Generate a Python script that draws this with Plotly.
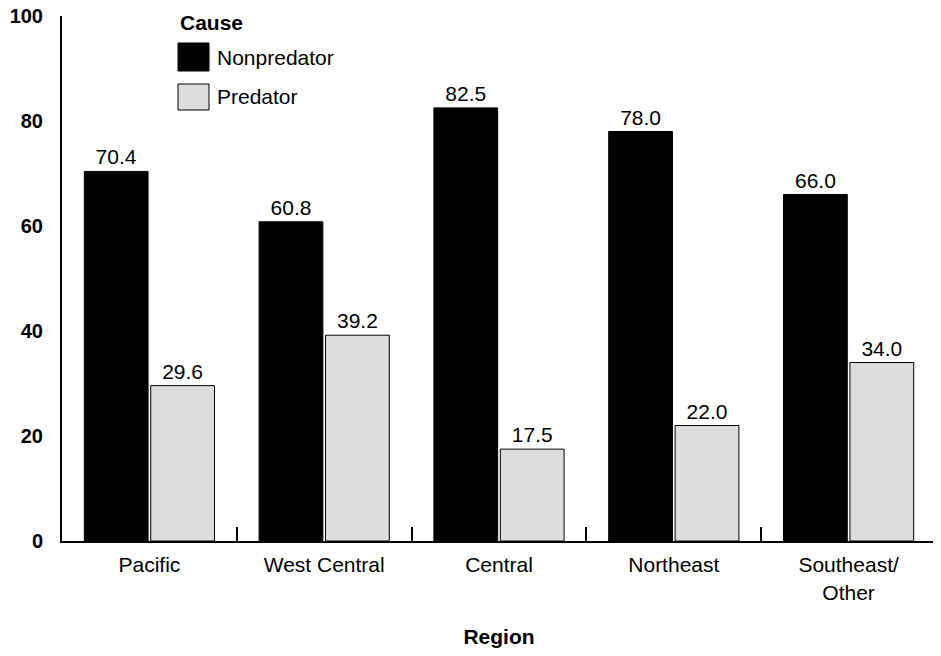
import plotly.graph_objects as go

regions = ["Pacific", "West Central", "Central", "Northeast", "Southeast/<br>Other"]
nonpredator = [70.4, 60.8, 82.5, 78.0, 66.0]
predator = [29.6, 39.2, 17.5, 22.0, 34.0]
y_ticks = [0, 20, 40, 60, 80, 100]

FONT = "Liberation Sans, Arial, sans-serif"
GRAY = "#dddddd"
FS = 21

fig = go.Figure()
fig.add_trace(go.Bar(
    x=regions, y=nonpredator, name="Nonpredator",
    marker=dict(color="black", line=dict(color="black", width=1)),
    text=[f"{v:.1f}" for v in nonpredator], textposition="outside",
    textfont=dict(family=FONT, size=FS, color="black"), cliponaxis=False,
    showlegend=False,
))
fig.add_trace(go.Bar(
    x=regions, y=predator, name="Predator",
    marker=dict(color=GRAY, line=dict(color="black", width=1)),
    text=[f"{v:.1f}" for v in predator], textposition="outside",
    textfont=dict(family=FONT, size=FS, color="black"), cliponaxis=False,
    showlegend=False,
))

# manual legend (paper coordinates, computed from reference pixel positions)
PW, PH, L, B = 874, 525, 62, 540
def px(x):
    return (x - L) / PW
def py(y):
    return (B - y) / PH

shapes = [
    dict(type="rect", xref="paper", yref="paper", x0=px(178), x1=px(209),
         y0=py(70), y1=py(42), fillcolor="black", line=dict(color="black", width=1)),
    dict(type="rect", xref="paper", yref="paper", x0=px(178), x1=px(209),
         y0=py(109), y1=py(83), fillcolor=GRAY, line=dict(color="black", width=1)),
]
annotations = [
    dict(text="<b>Cause</b>", xref="paper", yref="paper", x=px(178), y=py(21),
         xanchor="left", yanchor="middle", showarrow=False, font=dict(family=FONT, size=FS, color="black")),
    dict(text="Nonpredator", xref="paper", yref="paper", x=px(215), y=py(56),
         xanchor="left", yanchor="middle", showarrow=False, font=dict(family=FONT, size=FS, color="black")),
    dict(text="Predator", xref="paper", yref="paper", x=px(215), y=py(96),
         xanchor="left", yanchor="middle", showarrow=False, font=dict(family=FONT, size=FS, color="black")),
]

# page body has an 8px margin, so the figure is offset by 8px
fig.update_layout(
    width=933, height=648,
    margin=dict(l=54, r=5, t=8, b=115, autoexpand=False),
    paper_bgcolor="white", plot_bgcolor="white",
    barmode="group", bargap=0.24, bargroupgap=0.04,
    font=dict(family=FONT, size=FS, color="black"),
    shapes=shapes, annotations=annotations,
    xaxis=dict(
        showline=True, linecolor="black", linewidth=2, showgrid=False,
        tickson="boundaries", ticks="inside", ticklen=14, tickwidth=2, tickcolor="black",
        tickfont=dict(family=FONT, size=FS, color="black"),
        title=dict(text="<b>Region</b>", font=dict(family=FONT, size=FS, color="black"), standoff=27),
        ticklabelstandoff=4, automargin=False,
    ),
    yaxis=dict(
        range=[0, 100], tickvals=y_ticks, showline=True, linecolor="black", linewidth=2,
        showgrid=False, zeroline=False, ticks="",
        tickfont=dict(family=FONT, size=20, color="black", weight="bold"),
        ticklabelstandoff=13, automargin=False, ticklabeloverflow="allow",
    ),
)

fig.write_html("out.html")
